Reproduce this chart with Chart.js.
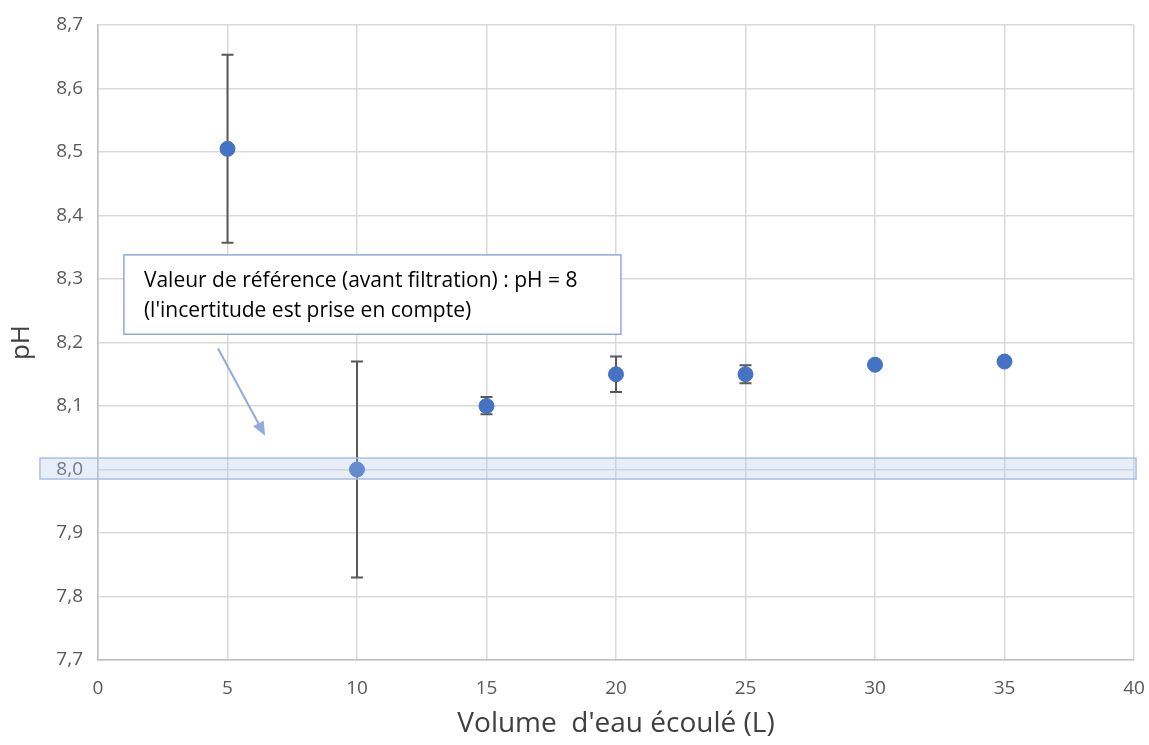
<!DOCTYPE html>
<html>
<head>
<meta charset="utf-8">
<script src="https://cdn.jsdelivr.net/npm/chart.js@4"></script>
<style>
  html, body { margin: 0; padding: 0; background: #fff; }
  #wrap { width: 1149px; height: 745px; }
</style>
</head>
<body>
<div id="wrap"><canvas id="phChart" width="1149" height="745"></canvas></div>
<script>
// Données
const volumes = [5, 10, 15, 20, 25, 30, 35];
const phValues = [8.505, 8.0, 8.1, 8.15, 8.15, 8.165, 8.17];
const errorsPlus = [0.148, 0.17, 0.014, 0.028, 0.014, 0, 0];
const errorsMinus = [0.148, 0.17, 0.013, 0.028, 0.014, 0, 0];

// Bande de référence (pH = 8 avec incertitude)
const refBandY = [7.985, 8.018];
const refBandX = [-2.24, 40.08];

// Encadré de texte et flèche (coordonnées en unités du graphique)
const noteLines = [
  "Valeur de référence (avant filtration) : pH = 8",
  "(l'incertitude est prise en compte)"
];
const noteBoxX = [1.0, 20.19];
const noteBoxY = [8.338, 8.213];
const arrowFrom = [4.63, 8.191];
const arrowTo = [6.45, 8.053];

const FONT = "'Open Sans', 'Liberation Sans', sans-serif";

// Barres d'erreur, dessinées sous les points
const errorBars = {
  id: 'errorBars',
  beforeDatasetsDraw(chart) {
    const { ctx, scales: { x, y } } = chart;
    ctx.save();
    ctx.strokeStyle = '#595959';
    ctx.lineWidth = 2;
    volumes.forEach((v, i) => {
      if (!errorsPlus[i] && !errorsMinus[i]) return;
      const px = x.getPixelForValue(v);
      const top = y.getPixelForValue(phValues[i] + errorsPlus[i]);
      const bot = y.getPixelForValue(phValues[i] - errorsMinus[i]);
      ctx.beginPath();
      ctx.moveTo(px, top); ctx.lineTo(px, bot);
      ctx.moveTo(px - 6, top); ctx.lineTo(px + 6, top);
      ctx.moveTo(px - 6, bot); ctx.lineTo(px + 6, bot);
      ctx.stroke();
    });
    ctx.restore();
  }
};

// Bande, encadré et flèche par-dessus le reste
const overlays = {
  id: 'overlays',
  afterDraw(chart) {
    const { ctx, scales: { x, y } } = chart;
    ctx.save();

    // bande de référence
    const bx1 = x.getPixelForValue(refBandX[0]);
    const bx2 = x.getPixelForValue(refBandX[1]);
    const by1 = y.getPixelForValue(refBandY[1]);
    const by2 = y.getPixelForValue(refBandY[0]);
    ctx.fillStyle = 'rgba(180, 199, 231, 0.3)';
    ctx.fillRect(bx1, by1, bx2 - bx1, by2 - by1);
    ctx.strokeStyle = '#a9bfe6';
    ctx.lineWidth = 1.5;
    ctx.strokeRect(bx1, by1, bx2 - bx1, by2 - by1);

    // encadré
    const nx1 = x.getPixelForValue(noteBoxX[0]);
    const nx2 = x.getPixelForValue(noteBoxX[1]);
    const ny1 = y.getPixelForValue(noteBoxY[0]);
    const ny2 = y.getPixelForValue(noteBoxY[1]);
    ctx.fillStyle = '#ffffff';
    ctx.fillRect(nx1, ny1, nx2 - nx1, ny2 - ny1);
    ctx.strokeStyle = '#8faadc';
    ctx.lineWidth = 1.5;
    ctx.strokeRect(nx1, ny1, nx2 - nx1, ny2 - ny1);
    ctx.fillStyle = '#000000';
    ctx.font = '21px ' + FONT;
    ctx.textBaseline = 'middle';
    ctx.textAlign = 'left';
    noteLines.forEach((line, i) => {
      ctx.fillText(line, nx1 + 20, ny1 + 26 + i * 30);
    });

    // flèche
    const ax1 = x.getPixelForValue(arrowFrom[0]);
    const ay1 = y.getPixelForValue(arrowFrom[1]);
    const ax2 = x.getPixelForValue(arrowTo[0]);
    const ay2 = y.getPixelForValue(arrowTo[1]);
    const ang = Math.atan2(ay2 - ay1, ax2 - ax1);
    ctx.strokeStyle = '#8faadc';
    ctx.fillStyle = '#8faadc';
    ctx.lineWidth = 2;
    ctx.beginPath();
    ctx.moveTo(ax1, ay1);
    ctx.lineTo(ax2 - 10 * Math.cos(ang), ay2 - 10 * Math.sin(ang));
    ctx.stroke();
    ctx.beginPath();
    ctx.moveTo(ax2, ay2);
    ctx.lineTo(ax2 - 14 * Math.cos(ang) + 6 * Math.sin(ang), ay2 - 14 * Math.sin(ang) - 6 * Math.cos(ang));
    ctx.lineTo(ax2 - 14 * Math.cos(ang) - 6 * Math.sin(ang), ay2 - 14 * Math.sin(ang) + 6 * Math.cos(ang));
    ctx.closePath();
    ctx.fill();

    ctx.restore();
  }
};

new Chart(document.getElementById('phChart').getContext('2d'), {
  type: 'scatter',
  data: {
    datasets: [{
      label: 'pH',
      data: volumes.map((v, i) => ({ x: v, y: phValues[i] })),
      backgroundColor: '#4472c4',
      borderColor: '#4472c4',
      pointRadius: 7.5,
      pointHoverRadius: 7.5
    }]
  },
  options: {
    responsive: false,
    animation: false,
    layout: { padding: { top: 25, right: 15, left: 0, bottom: 0 } },
    plugins: { legend: { display: false }, tooltip: { enabled: false } },
    scales: {
      x: {
        type: 'linear',
        min: 0, max: 40,
        afterFit(scale) {
          scale.height = 85;
          scale.paddingLeft = 0;
          scale.paddingRight = 0;
        },
        ticks: { stepSize: 5, padding: 17, color: '#595959', font: { family: FONT, size: 19 } },
        grid: { color: '#d9d9d9', lineWidth: 1.5, drawTicks: false },
        border: { color: '#bfbfbf', width: 1.5 },
        title: { display: true, text: "Volume  d'eau écoulé (L)", color: '#404040', font: { family: FONT, size: 28 }, padding: { top: 10 } }
      },
      y: {
        min: 7.7, max: 8.7,
        afterFit(scale) {
          scale.width = 98;
          scale.paddingTop = 0;
          scale.paddingBottom = 0;
        },
        ticks: {
          stepSize: 0.1, padding: 15, color: '#595959', font: { family: FONT, size: 19 },
          callback: v => v.toFixed(1).replace('.', ',')
        },
        grid: { color: '#d9d9d9', lineWidth: 1.5, drawTicks: false },
        border: { color: '#bfbfbf', width: 1.5 },
        title: { display: true, text: 'pH', color: '#404040', font: { family: FONT, size: 26 }, padding: { top: 6, bottom: 0 } }
      }
    }
  },
  plugins: [errorBars, overlays]
});
</script>
</body>
</html>
